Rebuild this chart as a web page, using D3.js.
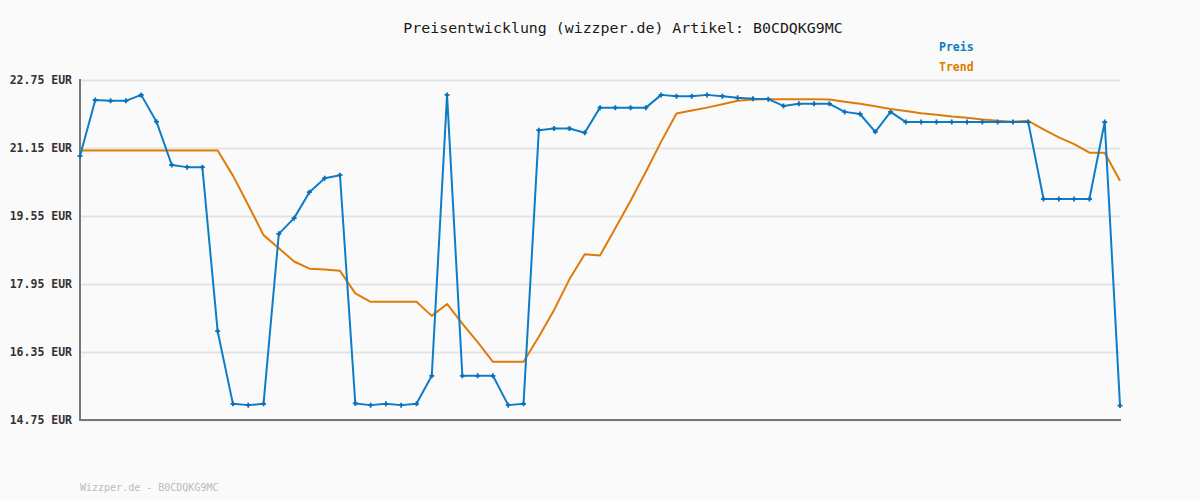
<!DOCTYPE html>
<html><head><meta charset="utf-8">
<script src="https://cdn.jsdelivr.net/npm/d3@7"></script>
<style>
html,body{margin:0;padding:0;background:#fafafa;}
svg{display:block;}
</style></head>
<body><svg id="c" width="1200" height="500"></svg>
<script>
const title = "Preisentwicklung (wizzper.de) Artikel: B0CDQKG9MC";
const footer = "Wizzper.de - B0CDQKG9MC";
const seriesNames = ["Preis", "Trend"];
const yTicks = [14.75, 16.35, 17.95, 19.55, 21.15, 22.75];
const preis = [20.96,22.28,22.26,22.26,22.40,21.77,20.75,20.70,20.70,16.84,
  15.13,15.10,15.13,19.13,19.50,20.11,20.44,20.51,15.14,15.10,
  15.13,15.10,15.13,15.79,22.40,15.79,15.79,15.79,15.10,15.13,
  21.57,21.61,21.61,21.51,22.10,22.10,22.10,22.10,22.40,22.37,
  22.37,22.40,22.37,22.33,22.31,22.30,22.14,22.19,22.19,22.19,
  22.00,21.95,21.53,22.00,21.76,21.76,21.76,21.76,21.76,21.76,
  21.76,21.76,21.76,19.95,19.95,19.95,19.95,21.76,15.09];
const trend = [21.09,21.09,21.09,21.09,21.09,21.09,21.09,21.09,21.09,21.09,
  20.50,19.81,19.10,18.79,18.48,18.31,18.29,18.26,17.73,17.53,
  17.53,17.53,17.53,17.20,17.48,17.02,16.58,16.12,16.12,16.12,
  16.71,17.34,18.06,18.65,18.62,19.26,19.91,20.59,21.30,21.96,
  22.03,22.10,22.18,22.26,22.29,22.30,22.30,22.30,22.30,22.29,
  22.24,22.19,22.13,22.07,22.02,21.97,21.93,21.89,21.86,21.82,
  21.79,21.77,21.79,21.59,21.40,21.24,21.04,21.04,20.38];

const svg = d3.select("#c");
const W = 1200, H = 500;
const m = {l:80, r:1120, t:80, b:420};
svg.append("rect").attr("width",W).attr("height",H).attr("fill","#fafafa");

const x = d3.scaleLinear().domain([0, preis.length-1]).range([m.l, m.r]);
const y = d3.scaleLinear().domain([14.75, 22.75]).range([m.b, m.t]);
const mono = "'DejaVu Sans Mono', 'Liberation Mono', monospace";

// gridlines
const yAxis = d3.axisLeft(y).tickValues(yTicks).tickSize(-(m.r-m.l))
  .tickFormat(d => d.toFixed(2) + " EUR").tickPadding(8);
const gy = svg.append("g").attr("transform", `translate(${m.l},0)`).call(yAxis);
gy.select(".domain").remove();
gy.selectAll(".tick line").attr("stroke","#e3e3e3").attr("stroke-width",2);
gy.selectAll(".tick text").attr("font-family",mono).attr("font-size","11.5px")
  .attr("font-weight","bold").attr("fill","#333");

// axes lines
svg.append("line").attr("x1",m.l).attr("x2",m.l).attr("y1",m.t-1).attr("y2",m.b+1)
  .attr("stroke","#777").attr("stroke-width",2);
svg.append("line").attr("x1",m.l-1).attr("x2",m.r+1).attr("y1",m.b).attr("y2",m.b)
  .attr("stroke","#777").attr("stroke-width",2);

const line = d3.line().x((d,i)=>x(i)).y(d=>y(d));
svg.append("path").datum(trend).attr("d",line).attr("fill","none")
  .attr("stroke","#e07b0a").attr("stroke-width",2).attr("stroke-linejoin","round");
svg.append("path").datum(preis).attr("d",line).attr("fill","none")
  .attr("stroke","#0e7dc8").attr("stroke-width",2).attr("stroke-linejoin","round");

// markers (small plus)
const mk = svg.append("g");
preis.forEach((d,i)=>{
  const cx = x(i), cy = y(d);
  mk.append("path").attr("d",`M${cx-2.5},${cy}H${cx+2.5}M${cx},${cy-2.5}V${cy+2.5}`)
    .attr("stroke","#0a6fb8").attr("stroke-width",1.8);
});

// title
svg.append("text").attr("x",623).attr("y",33).attr("text-anchor","middle")
  .attr("font-family",mono).attr("font-size","14.9px").attr("fill","#1a1a1a").text(title);

// legend
const colors = ["#0a7ac4","#e07b00"];
seriesNames.forEach((n,i)=>{
  svg.append("text").attr("x",939).attr("y",51+i*20).attr("font-family",mono)
    .attr("font-size","11.5px").attr("font-weight","bold").attr("fill",colors[i]).text(n);
});

// footer
svg.append("text").attr("x",80).attr("y",491).attr("font-family",mono)
  .attr("font-size","10px").attr("fill","#bbb").text(footer);
</script></body></html>
